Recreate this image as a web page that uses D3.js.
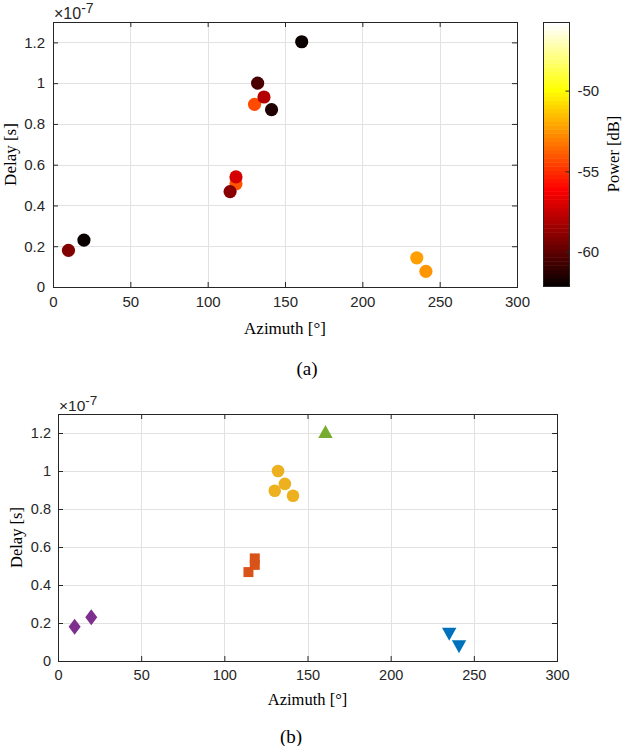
<!DOCTYPE html>
<html><head><meta charset="utf-8">
<script src="https://cdn.jsdelivr.net/npm/d3@7"></script>
<style>body{margin:0;background:#fff}svg{display:block}</style>
</head><body><svg id="c" width="622" height="746"></svg>
<script>
// ---- data (delay in units of 1e-7 s) ----
const azimuth = [10, 20, 118.3, 114.5, 118.3, 130.3, 136.4, 132.3, 141.3, 160.8, 235.2, 241.1];
const delay   = [0.18, 0.23, 0.506, 0.468, 0.54, 0.896, 0.932, 1.0, 0.87, 1.203, 0.143, 0.077];
const power   = [-59.2, -62.0, -54.0, -58.9, -57.0, -54.3, -57.9, -60.5, -61.4, -62.0, -52.2, -52.5];
const cluster = [0, 0, 1, 1, 1, 2, 2, 2, 2, 3, 4, 4];
const clusterColors  = ['#7E2F8E', '#D95319', '#EDB120', '#77AC30', '#0072BD'];
const clusterSymbols = ['diamond', 'square', 'circle', 'triangleUp', 'triangleDown'];
const xTicks = [0, 50, 100, 150, 200, 250, 300];
const yTicks = [0, 0.2, 0.4, 0.6, 0.8, 1, 1.2];
const xDomain = [0, 300];
const yDomain = [0, 1.3];
const powerTicks = [-60, -55, -50];
const powerLimits = [-62.1, -45.75];
const yExponent = '-7';

const svg = d3.select('#c');
const AX = '#262626', GRID = '#e2e2e2';
const SANS = '"Liberation Sans", Arial, sans-serif';
const SERIF = '"Liberation Serif", "Times New Roman", serif';

// MATLAB hot(64)
function hot(v) {
  const t = (v - powerLimits[0]) / (powerLimits[1] - powerLimits[0]);
  const i = Math.max(0, Math.min(63, Math.floor(t * 64)));
  const r = Math.min(1, (i + 1) / 24);
  const g = i < 24 ? 0 : Math.min(1, (i - 23) / 24);
  const b = i < 48 ? 0 : (i - 47) / 16;
  return d3.rgb(r * 255, g * 255, b * 255).toString();
}

function panel(o) {
  const x = d3.scaleLinear().domain(xDomain).range([o.left, o.right]);
  const y = d3.scaleLinear().domain(yDomain).range([o.bottom, o.top]);
  const g = svg.append('g');
  // grid
  g.selectAll('.gx').data(xTicks.slice(1, -1)).join('line')
    .attr('x1', d => Math.round(x(d)) + 0.5).attr('x2', d => Math.round(x(d)) + 0.5)
    .attr('y1', o.top).attr('y2', o.bottom).attr('stroke', GRID);
  g.selectAll('.gy').data(yTicks.slice(1)).join('line')
    .attr('y1', d => Math.round(y(d)) + 0.5).attr('y2', d => Math.round(y(d)) + 0.5)
    .attr('x1', o.left).attr('x2', o.right).attr('stroke', GRID);
  // axes via d3.axis
  const tl = 5;
  const xb = g.append('g').attr('transform', `translate(0,${o.bottom})`)
    .call(d3.axisBottom(x).tickValues(xTicks).tickSize(-tl).tickPadding(o.xPad).tickFormat(d3.format('d')));
  const xt = g.append('g').attr('transform', `translate(0,${o.top})`)
    .call(d3.axisTop(x).tickValues(xTicks).tickSize(-tl).tickFormat(''));
  const yl = g.append('g').attr('transform', `translate(${o.left},0)`)
    .call(d3.axisLeft(y).tickValues(yTicks).tickSize(-tl).tickPadding(o.yPad).tickFormat(d => d3.format('~g')(d)));
  const yr = g.append('g').attr('transform', `translate(${o.right},0)`)
    .call(d3.axisRight(y).tickValues(yTicks).tickSize(-tl).tickFormat(''));
  [xb, xt, yl, yr].forEach(a => {
    a.select('.domain').remove();
    a.selectAll('.tick line').attr('stroke', AX);
    a.selectAll('text').attr('fill', AX).attr('font-family', SANS).attr('font-size', o.tickFs);
  });
  g.append('rect').attr('x', o.left + 0.5).attr('y', o.top + 0.5)
    .attr('width', o.right - o.left).attr('height', o.bottom - o.top)
    .attr('fill', 'none').attr('stroke', AX);
  // exponent
  const ex = g.append('text').attr('x', o.left + 1).attr('y', o.top - 3)
    .attr('font-family', SANS).attr('font-size', o.tickFs + 1).attr('fill', AX);
  ex.append('tspan').text('\u00d710');
  ex.append('tspan').attr('dy', -6).attr('font-size', o.tickFs - 1).text(yExponent);
  // labels
  g.append('text').attr('x', (o.left + o.right) / 2).attr('y', o.xlabY)
    .attr('text-anchor', 'middle').attr('font-family', SERIF).attr('font-size', o.labFs).attr('fill', '#000')
    .text('Azimuth [\u00b0]');
  g.append('text').attr('transform', `translate(${o.ylabX},${(o.top + o.bottom) / 2}) rotate(-90)`)
    .attr('text-anchor', 'middle').attr('dominant-baseline', 'central')
    .attr('font-family', SERIF).attr('font-size', o.labFs).attr('fill', '#000').text('Delay [s]');
  g.append('text').attr('x', o.capX).attr('y', o.capY).attr('text-anchor', 'middle')
    .attr('font-family', SERIF).attr('font-size', 19).attr('fill', '#000').text(o.caption);
  return {g, x, y};
}

// ---- panel (a) ----
const A = panel({left: 53, right: 517, top: 22, bottom: 287, xPad: 9, yPad: 8, tickFs: 15, labFs: 17,
  xlabY: 334, ylabX: 10, capX: 307, capY: 375, caption: '(a)'});
const idx = d3.range(azimuth.length);
A.g.append('g').selectAll('circle').data(idx).join('circle')
  .attr('cx', i => A.x(azimuth[i])).attr('cy', i => A.y(delay[i])).attr('r', 6.6)
  .attr('fill', i => hot(power[i]));

// colorbar
const cb = {x0: 543, x1: 569, top: 22, bottom: 286};
const cy = d3.scaleLinear().domain(powerLimits).range([cb.bottom, cb.top]);
const bands = d3.range(64);
const step = (powerLimits[1] - powerLimits[0]) / 64;
svg.append('g').selectAll('rect').data(bands).join('rect')
  .attr('x', cb.x0).attr('width', cb.x1 - cb.x0)
  .attr('y', k => cy(powerLimits[0] + (k + 1) * step))
  .attr('height', k => cy(powerLimits[0] + k * step) - cy(powerLimits[0] + (k + 1) * step) + 0.5)
  .attr('fill', k => hot(powerLimits[0] + (k + 0.5) * step));
svg.append('rect').attr('x', cb.x0 + 0.5).attr('y', cb.top + 0.5)
  .attr('width', cb.x1 - cb.x0).attr('height', cb.bottom - cb.top).attr('fill', 'none').attr('stroke', AX);
const cba = svg.append('g').attr('transform', `translate(${cb.x1 + 0.5},0)`)
  .call(d3.axisRight(cy).tickValues(powerTicks).tickSize(-4).tickPadding(8).tickFormat(d => String(d)));
cba.select('.domain').remove();
cba.selectAll('.tick line').attr('stroke', AX);
cba.selectAll('text').attr('fill', AX).attr('font-family', SANS).attr('font-size', 15);
svg.append('text').attr('transform', `translate(613,${(cb.top + cb.bottom) / 2}) rotate(-90)`)
  .attr('text-anchor', 'middle').attr('dominant-baseline', 'central')
  .attr('font-family', SERIF).attr('font-size', 16.5).attr('fill', '#000').text('Power [dB]');

// ---- panel (b) ----
const B = panel({left: 58, right: 557, top: 414, bottom: 661, xPad: 9, yPad: 7, tickFs: 14.5, labFs: 16.5,
  xlabY: 705, ylabX: 16, capX: 291, capY: 743, caption: '(b)'});
const shapes = {
  circle: () => { const p = d3.path(); p.arc(0, 0, 6.3, 0, 2 * Math.PI); return p.toString(); },
  square: () => 'M-5,-5H5V5H-5Z',
  diamond: () => 'M0,-8L6,0L0,8L-6,0Z',
  triangleUp: () => 'M0,-7.5L7.2,5.5L-7.2,5.5Z',
  triangleDown: () => 'M0,7L7.2,-6L-7.2,-6Z'
};
B.g.append('g').selectAll('path').data(idx).join('path')
  .attr('transform', i => `translate(${B.x(azimuth[i])},${B.y(delay[i])})`)
  .attr('d', i => shapes[clusterSymbols[cluster[i]]]())
  .attr('fill', i => clusterColors[cluster[i]]);
</script></body></html>
